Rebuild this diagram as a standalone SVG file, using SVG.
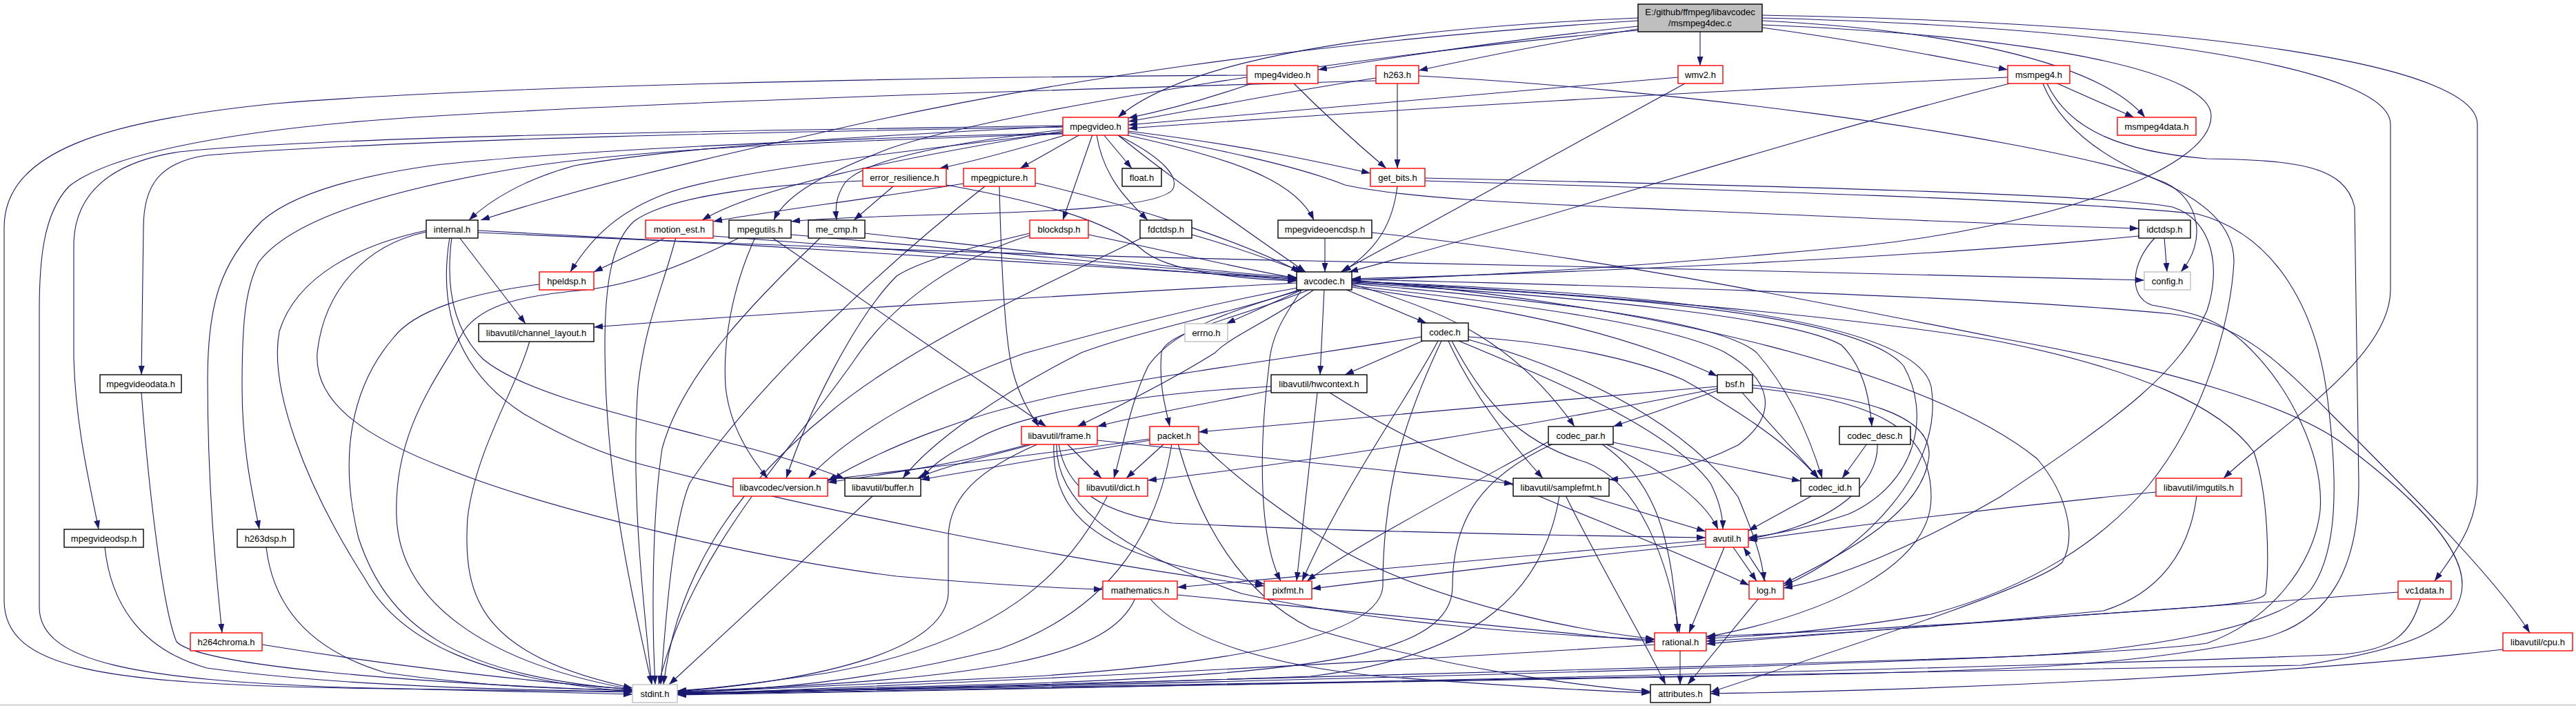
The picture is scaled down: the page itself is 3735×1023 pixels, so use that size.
<svg xmlns="http://www.w3.org/2000/svg" width="3735" height="1023" viewBox="0 0 3735 1023">
<defs>
<marker id="a" markerUnits="userSpaceOnUse" markerWidth="13" markerHeight="9" refX="13" refY="4.5" orient="auto"><path d="M0,0 L13,4.5 L0,9 z" fill="#191970"/></marker>
</defs>
<style>
.e path{fill:none;stroke:#191970;stroke-width:1.1;marker-end:url(#a)}
.bk rect{fill:#fff;stroke:#000;stroke-width:1.4}
.rd rect{fill:#fff;stroke:#f00;stroke-width:1.4}
.gy rect{fill:#fff;stroke:#bfbfbf;stroke-width:1.4}
.mn rect{fill:#bfbfbf;stroke:#000;stroke-width:1.4}
text{font-family:"Liberation Sans",Arial,sans-serif;font-size:13px;text-anchor:middle;fill:#000}
</style>
<rect x="0" y="0" width="3735" height="1023" fill="#fff"/>
<line x1="0" y1="1021.5" x2="3735" y2="1021.5" stroke="#c0c0c0" stroke-width="1.5"/>
<g id="connectors" class="e">
<path d="M2375,38 C2200,56 2040,80 1911,101"/>
<path d="M2375,42 C2260,60 2150,82 2057,102"/>
<path d="M2465,46 L2465,95"/>
<path d="M2555,40 C2690,58 2800,80 2911,101"/>
<path d="M2555,30 C2800,42 3040,85 3110,170"/>
<path d="M2375,26 C2000,42 1720,85 1621,170"/>
<path d="M2555,36 C3000,55 3206,110 3206,168 C3206,250 2950,330 2700,356 C2400,385 2150,400 1960,406"/>
<path d="M2375,30 C1900,60 1500,120 1200,190 C1000,235 850,270 697,319"/>
<path d="M2375,44 C2000,75 1450,160 1290,215 C1200,250 1140,280 1122,319"/>
<path d="M2555,26 C3100,40 3466,100 3466,180 L3466,420 C3466,520 3300,620 3224,693"/>
<path d="M2555,22 C3250,35 3592,100 3592,180 L3592,700 C3592,760 3560,800 3530,842"/>
<path d="M1815,121 C1760,140 1700,158 1636,171"/>
<path d="M1876,121 C1920,165 1970,210 2010,244"/>
<path d="M1808,109 C1300,112 700,125 400,150 C150,175 6,220 6,330 L6,870 C6,970 150,990 500,997 C700,1001 850,1003 917,1003"/>
<path d="M2026,121 L2026,244"/>
<path d="M1995,113 C1850,135 1720,162 1636,176"/>
<path d="M1995,117 C1600,128 1000,145 600,170 C300,190 150,230 100,270 C62,310 57,380 57,450 L57,880 C57,960 200,985 500,996 C700,1002 850,1005 917,1006"/>
<path d="M2057,110 C2400,128 2900,190 3114,255 C3200,290 3240,330 3239,380 C3235,460 3200,600 3114,705 C3050,780 2950,850 2800,890 C2650,915 2550,922 2474,925"/>
<path d="M2443,121 L1944,394"/>
<path d="M2433,112 C2100,140 1800,168 1636,181"/>
<path d="M2911,112 C2500,130 2000,160 1636,186"/>
<path d="M2914,121 C2600,200 2200,330 1956,394"/>
<path d="M2983,121 L3094,170"/>
<path d="M2962,121 C2990,190 3060,235 3140,265 C3190,290 3200,350 3162,394"/>
<path d="M2968,121 C3000,190 3080,220 3200,230 C3330,232 3400,240 3414,300 L3420,700 C3420,820 3380,900 3280,925 C3100,965 2900,972 2600,978 C2000,990 1400,1000 982,1006"/>
<path d="M1547,195 C1480,215 1420,232 1362,244"/>
<path d="M1566,195 L1479,244"/>
<path d="M1600,195 L1641,244"/>
<path d="M1584,195 L1541,319"/>
<path d="M1590,195 C1600,260 1640,295 1664,319"/>
<path d="M1636,190 C1800,210 1900,232 1987,251"/>
<path d="M1630,195 C1800,232 1880,265 1905,319"/>
<path d="M1636,192 C1760,215 1880,240 1950,268 C2050,290 2250,296 2450,305 C2700,315 2900,326 3101,331"/>
<path d="M1620,195 C1700,260 1800,330 1893,394"/>
<path d="M1541,183 C1300,195 1000,210 833,240 C760,260 710,290 680,319"/>
<path d="M1541,190 C1300,230 1100,270 1018,319"/>
<path d="M1619,195 C1690,230 1710,258 1700,275 C1680,298 1550,306 1400,310 C1250,314 1180,317 1147,321"/>
<path d="M1541,188 C1350,210 1250,235 1225,265 C1212,285 1211,300 1213,319"/>
<path d="M1541,192 C1300,220 1050,250 967,280 C900,305 860,340 827,394"/>
<path d="M1541,184 C1200,190 600,200 300,225 C230,235 208,270 208,330 L205,543"/>
<path d="M1541,182 C1200,188 500,195 260,220 C160,235 110,280 107,350 L107,520 C110,620 130,700 143,767"/>
<path d="M1541,194 C1200,205 900,215 715,250 C550,280 420,320 375,380 C355,420 351,470 351,560 C351,650 365,710 376,767"/>
<path d="M1541,193 C1200,200 800,220 625,240 C500,258 420,285 380,320 C320,380 301,440 301,550 C301,700 312,820 322,917"/>
<path d="M693,334 C1100,355 1600,385 1880,404"/>
<path d="M693,337 C1200,360 1600,372 1900,378 C2300,386 2800,398 3109,406"/>
<path d="M666,344 L762,469"/>
<path d="M618,334 C520,355 430,400 405,480 C390,560 440,700 530,840 C580,930 700,985 917,1002"/>
<path d="M618,336 C530,355 470,420 460,511 C455,580 520,630 650,680 C800,740 1100,810 1300,835 C1450,848 1530,852 1599,854"/>
<path d="M655,344 C645,420 660,480 700,520 C760,570 900,600 1050,640 C1130,660 1190,680 1225,694"/>
<path d="M652,344 C638,430 650,530 760,600 C830,640 880,660 934,674 C1150,730 1550,815 1833,849"/>
<path d="M966,344 L861,394"/>
<path d="M1034,342 C1400,370 1700,395 1880,406"/>
<path d="M980,344 C960,420 935,470 925,560 C915,700 930,850 945,992"/>
<path d="M1397,266 C1250,290 1100,308 1034,321"/>
<path d="M1449,270 C1452,400 1458,500 1469,540 C1480,580 1495,600 1506,618"/>
<path d="M1501,265 C1650,300 1800,350 1885,394"/>
<path d="M1428,270 C1300,370 1100,550 1000,700 C975,760 965,900 958,992"/>
<path d="M1295,270 L1238,319"/>
<path d="M1372,268 C1550,300 1620,330 1660,365 C1700,395 1800,404 1880,407"/>
<path d="M1251,262 C1100,268 970,285 920,320 C885,350 877,420 877,500 C877,700 920,880 945,992"/>
<path d="M1095,344 C1060,420 1048,500 1052,560 C1058,620 1090,665 1113,693"/>
<path d="M1119,344 L1517,618"/>
<path d="M1147,340 C1500,370 1750,395 1880,404"/>
<path d="M1073,344 C1000,380 930,410 850,420 C760,428 700,440 672,480 C640,540 570,620 575,750 C580,870 700,960 917,999"/>
<path d="M1254,338 C1500,365 1750,393 1880,402"/>
<path d="M1190,344 C1100,430 990,540 960,650 C945,750 945,900 950,992"/>
<path d="M1493,338 C1400,360 1330,380 1300,400 C1240,460 1170,600 1140,693"/>
<path d="M1578,340 C1700,365 1800,390 1880,403"/>
<path d="M1493,341 C1400,370 1300,430 1240,520 C1150,650 1000,800 955,992"/>
<path d="M1728,340 C1800,360 1850,380 1890,394"/>
<path d="M1657,344 C1500,420 1320,500 1200,600 C1050,720 980,850 962,992"/>
<path d="M1921,344 L1921,394"/>
<path d="M1989,337 C2300,370 2600,430 2900,490 C3150,535 3329,590 3400,645 C3500,720 3580,800 3569,858 C3560,910 3500,940 3337,964 C2800,975 1500,995 982,1004"/>
<path d="M3138,344 L3142,394"/>
<path d="M3101,342 C2800,372 2300,395 1960,404"/>
<path d="M3125,344 C3090,380 3085,430 3120,442 C3160,450 3210,455 3257,500 C3320,560 3370,660 3364,740 C3355,820 3290,900 3200,932 C3050,955 2000,985 982,1005"/>
<path d="M2026,270 C2020,320 2000,360 1946,394"/>
<path d="M2066,258 C2500,268 3050,280 3150,300 C3210,320 3220,390 3200,450 C3160,540 3080,600 2900,720 C2780,790 2660,840 2586,852"/>
<path d="M2066,262 C2500,275 3000,290 3186,310 C3300,340 3360,450 3375,580 C3390,700 3390,800 3350,855 C3300,910 3100,945 2900,952 C2200,975 1400,995 982,1006"/>
<path d="M1890,419 L1778,469"/>
<path d="M1880,410 C1500,430 1100,455 861,474"/>
<path d="M1920,419 L1914,543"/>
<path d="M1950,419 L2068,468"/>
<path d="M1882,417 C1750,440 1600,480 1485,512 C1350,560 1230,630 1172,693"/>
<path d="M1886,419 C1800,450 1650,480 1568,511 C1450,570 1350,640 1309,693"/>
<path d="M1892,419 C1780,450 1700,480 1665,530 C1640,580 1630,640 1615,693"/>
<path d="M1900,419 C1800,460 1690,480 1684,511 C1680,560 1690,590 1696,618"/>
<path d="M1906,419 C1850,460 1780,490 1762,511 C1700,550 1620,590 1562,618"/>
<path d="M1888,419 C1860,460 1842,490 1840,530 C1825,650 1825,780 1857,842"/>
<path d="M1960,414 C2200,440 2420,470 2500,510 C2570,550 2580,600 2520,645 C2450,680 2390,690 2333,695"/>
<path d="M1960,412 C2100,450 2200,500 2283,618"/>
<path d="M1960,411 C2300,440 2500,470 2547,511 C2590,560 2620,620 2642,693"/>
<path d="M1960,410 C2300,430 2600,460 2670,500 C2700,530 2710,570 2714,618"/>
<path d="M1960,416 C2200,450 2350,480 2490,545"/>
<path d="M1960,409 C2400,430 2700,460 2760,530 C2800,600 2780,700 2680,745 C2620,765 2570,775 2535,779"/>
<path d="M1960,408 C2450,425 2780,470 2800,560 C2820,680 2700,800 2586,849"/>
<path d="M1960,407 C2300,425 2700,460 2900,495 C3100,535 3221,590 3268,655 C3290,720 3290,820 3285,860 C3275,880 3150,880 2900,900 C2700,912 2560,920 2474,922"/>
<path d="M1960,406 C2400,440 2800,540 2954,665 C3000,720 3010,780 2990,815 C2950,850 2700,930 2480,1003"/>
<path d="M1960,405 C2400,415 2900,430 3150,455 C3250,470 3300,520 3380,600 C3500,720 3620,840 3668,917"/>
<path d="M2063,494 L1950,543"/>
<path d="M2061,488 C1900,515 1700,540 1550,570 C1400,600 1280,650 1200,697"/>
<path d="M2085,494 C2040,580 1950,700 1888,842"/>
<path d="M2090,494 C2040,600 2005,700 2005,850 C2000,920 1800,960 1500,980 C1200,995 1050,1002 982,1004"/>
<path d="M2100,494 C2130,560 2180,630 2237,693"/>
<path d="M2105,494 C2150,580 2200,640 2300,670 C2380,700 2420,820 2435,917"/>
<path d="M2115,494 C2250,550 2420,620 2480,700 C2495,730 2498,750 2498,767"/>
<path d="M2129,488 C2250,495 2370,520 2440,550 C2530,600 2600,650 2636,693"/>
<path d="M2129,492 C2300,540 2450,620 2520,720 C2545,780 2555,810 2558,842"/>
<path d="M1843,560 C1650,570 1470,600 1410,640 C1370,660 1350,675 1337,693"/>
<path d="M1843,566 C1720,590 1640,605 1591,618"/>
<path d="M1928,569 C2100,680 2350,760 2536,848"/>
<path d="M1910,569 L1880,842"/>
<path d="M2490,560 C2200,585 1900,610 1738,626"/>
<path d="M2490,563 C2200,620 1900,670 1664,696"/>
<path d="M2490,566 L2339,618"/>
<path d="M2526,569 L2637,693"/>
<path d="M2541,558 C2700,575 2800,600 2797,660 C2790,740 2680,800 2586,846"/>
<path d="M2541,562 C2720,580 2800,620 2800,720 C2800,820 2650,890 2474,923"/>
<path d="M1667,638 L1335,695"/>
<path d="M1667,636 C1500,660 1320,680 1200,695"/>
<path d="M1688,643 L1633,693"/>
<path d="M1699,643 C1680,760 1620,880 1450,940 C1250,990 1100,1000 982,1003"/>
<path d="M1708,643 C1740,760 1800,860 1900,910 C2100,970 2300,995 2393,1002"/>
<path d="M1738,640 C1800,700 1870,750 1950,800 C2100,880 2300,915 2399,926"/>
<path d="M1494,643 C1400,670 1300,685 1200,699"/>
<path d="M1500,643 C1420,665 1370,675 1330,693"/>
<path d="M1547,643 L1597,693"/>
<path d="M1506,643 C1420,680 1375,720 1375,780 L1375,860 C1370,940 1200,985 982,1002"/>
<path d="M1535,643 C1545,710 1600,745 1700,758 C1900,768 2200,775 2473,779"/>
<path d="M1591,638 C1800,660 2000,680 2194,701"/>
<path d="M1528,643 C1525,720 1560,780 1700,818 C1760,832 1800,840 1833,846"/>
<path d="M1532,643 C1530,720 1600,790 1800,860 C2000,905 2250,920 2399,927"/>
<path d="M2339,641 L2611,697"/>
<path d="M2327,643 C2400,675 2470,720 2491,767"/>
<path d="M2322,643 C2390,690 2425,760 2432,917"/>
<path d="M2245,640 C2100,720 1950,800 1895,842"/>
<path d="M2252,643 C2150,690 2106,750 2106,850 C2106,950 1900,975 1500,990 C1200,1000 1050,1003 982,1005"/>
<path d="M2300,718 L2473,770"/>
<path d="M2270,718 C2320,820 2380,920 2415,992"/>
<path d="M2261,718 C2240,850 2150,950 1900,980 C1500,995 1100,1003 982,1005"/>
<path d="M2707,643 L2671,693"/>
<path d="M2722,643 C2725,700 2660,760 2535,781"/>
<path d="M2628,718 L2535,769"/>
<path d="M3126,713 C2900,735 2700,760 2535,783"/>
<path d="M3185,718 C3175,800 3130,860 3050,885 C2800,910 2600,922 2474,929"/>
<path d="M3477,858 C3200,880 2800,905 2474,933"/>
<path d="M3510,867 C3495,920 3470,940 3400,948 C3000,965 2000,990 982,1007"/>
<path d="M3629,941 C3300,980 2800,1000 2480,1005"/>
<path d="M2500,793 L2449,917"/>
<path d="M2473,783 C2200,805 1900,835 1707,851"/>
<path d="M2473,788 C2300,805 2050,835 1902,853"/>
<path d="M2513,793 L2547,842"/>
<path d="M2560,842 L2528,793"/>
<path d="M2550,867 L2447,992"/>
<path d="M2436,942 L2436,992"/>
<path d="M2399,934 C2000,960 1400,990 982,1006"/>
<path d="M1707,862 C1900,880 2200,910 2399,930"/>
<path d="M1667,867 C1720,930 1850,965 2000,980 C2200,995 2330,1002 2393,1004"/>
<path d="M1646,867 C1610,950 1450,985 982,1002"/>
<path d="M1606,718 C1550,830 1450,930 1200,975 C1100,990 1030,998 982,1001"/>
<path d="M1266,718 L970,992"/>
<path d="M768,494 C750,560 690,650 678,750 C670,870 700,950 917,997"/>
<path d="M782,412 C680,425 600,450 570,490 C510,560 490,660 520,780 C560,900 650,980 917,999"/>
<path d="M205,569 C215,700 235,880 256,930 C290,965 600,990 917,1001"/>
<path d="M152,793 C160,870 200,940 300,968 C500,995 750,1000 917,1002"/>
<path d="M386,793 C395,870 440,940 560,975 C700,995 820,999 917,1000"/>
<path d="M380,934 C600,970 800,990 917,999"/>
</g>
<g id="n_main" class="mn"><rect x="2375" y="6" width="180" height="40"/><text x="2465" y="22">E:/github/ffmpeg/libavcodec</text><text x="2465" y="38">/msmpeg4dec.c</text></g>
<g id="n_mpeg4video" class="rd"><rect x="1808" y="95" width="103" height="26"/><text x="1859.5" y="112.5">mpeg4video.h</text></g>
<g id="n_h263" class="rd"><rect x="1995" y="95" width="62" height="26"/><text x="2026" y="112.5">h263.h</text></g>
<g id="n_wmv2" class="rd"><rect x="2433" y="95" width="65" height="26"/><text x="2465.5" y="112.5">wmv2.h</text></g>
<g id="n_msmpeg4" class="rd"><rect x="2911" y="95" width="90" height="26"/><text x="2956" y="112.5">msmpeg4.h</text></g>
<g id="n_mpegvideo" class="rd"><rect x="1541" y="170" width="95" height="26"/><text x="1588.5" y="187.5">mpegvideo.h</text></g>
<g id="n_msmpeg4data" class="rd"><rect x="3070" y="170" width="114" height="26"/><text x="3127" y="187.5">msmpeg4data.h</text></g>
<g id="n_error_resilience" class="rd"><rect x="1251" y="244" width="121" height="26"/><text x="1311.5" y="261.5">error_resilience.h</text></g>
<g id="n_mpegpicture" class="rd"><rect x="1397" y="244" width="104" height="26"/><text x="1449" y="261.5">mpegpicture.h</text></g>
<g id="n_float" class="bk"><rect x="1627" y="244" width="57" height="26"/><text x="1655.5" y="261.5">float.h</text></g>
<g id="n_get_bits" class="rd"><rect x="1987" y="244" width="79" height="26"/><text x="2026.5" y="261.5">get_bits.h</text></g>
<g id="n_internal" class="bk"><rect x="618" y="319" width="75" height="26"/><text x="655.5" y="336.5">internal.h</text></g>
<g id="n_motion_est" class="rd"><rect x="936" y="319" width="98" height="26"/><text x="985" y="336.5">motion_est.h</text></g>
<g id="n_mpegutils" class="bk"><rect x="1057" y="319" width="90" height="26"/><text x="1102" y="336.5">mpegutils.h</text></g>
<g id="n_me_cmp" class="bk"><rect x="1172" y="319" width="82" height="26"/><text x="1213" y="336.5">me_cmp.h</text></g>
<g id="n_blockdsp" class="rd"><rect x="1493" y="319" width="85" height="26"/><text x="1535.5" y="336.5">blockdsp.h</text></g>
<g id="n_fdctdsp" class="bk"><rect x="1653" y="319" width="75" height="26"/><text x="1690.5" y="336.5">fdctdsp.h</text></g>
<g id="n_mpegvideoencdsp" class="bk"><rect x="1853" y="319" width="136" height="26"/><text x="1921" y="336.5">mpegvideoencdsp.h</text></g>
<g id="n_idctdsp" class="bk"><rect x="3101" y="319" width="75" height="26"/><text x="3138.5" y="336.5">idctdsp.h</text></g>
<g id="n_hpeldsp" class="rd"><rect x="782" y="394" width="79" height="26"/><text x="821.5" y="411.5">hpeldsp.h</text></g>
<g id="n_avcodec" class="bk"><rect x="1880" y="394" width="80" height="26"/><text x="1920" y="411.5">avcodec.h</text></g>
<g id="n_config" class="gy"><rect x="3109" y="394" width="67" height="26"/><text x="3142.5" y="411.5">config.h</text></g>
<g id="n_channel_layout" class="bk"><rect x="694" y="469" width="167" height="26"/><text x="777.5" y="486.5">libavutil/channel_layout.h</text></g>
<g id="n_errno" class="gy"><rect x="1718" y="469" width="62" height="26"/><text x="1749" y="486.5">errno.h</text></g>
<g id="n_codec" class="bk"><rect x="2061" y="468" width="68" height="26"/><text x="2095" y="485.5">codec.h</text></g>
<g id="n_mpegvideodata" class="bk"><rect x="145" y="543" width="118" height="26"/><text x="204" y="560.5">mpegvideodata.h</text></g>
<g id="n_hwcontext" class="bk"><rect x="1843" y="543" width="139" height="26"/><text x="1912.5" y="560.5">libavutil/hwcontext.h</text></g>
<g id="n_bsf" class="bk"><rect x="2490" y="543" width="51" height="26"/><text x="2515.5" y="560.5">bsf.h</text></g>
<g id="n_frame" class="rd"><rect x="1481" y="618" width="110" height="26"/><text x="1536" y="635.5">libavutil/frame.h</text></g>
<g id="n_packet" class="rd"><rect x="1667" y="618" width="71" height="26"/><text x="1702.5" y="635.5">packet.h</text></g>
<g id="n_codec_par" class="bk"><rect x="2245" y="618" width="94" height="26"/><text x="2292" y="635.5">codec_par.h</text></g>
<g id="n_codec_desc" class="bk"><rect x="2667" y="618" width="103" height="26"/><text x="2718.5" y="635.5">codec_desc.h</text></g>
<g id="n_version" class="rd"><rect x="1063" y="693" width="137" height="26"/><text x="1131.5" y="710.5">libavcodec/version.h</text></g>
<g id="n_buffer" class="bk"><rect x="1225" y="693" width="110" height="26"/><text x="1280" y="710.5">libavutil/buffer.h</text></g>
<g id="n_dict" class="rd"><rect x="1564" y="693" width="100" height="26"/><text x="1614" y="710.5">libavutil/dict.h</text></g>
<g id="n_samplefmt" class="bk"><rect x="2194" y="693" width="139" height="26"/><text x="2263.5" y="710.5">libavutil/samplefmt.h</text></g>
<g id="n_codec_id" class="bk"><rect x="2611" y="693" width="85" height="26"/><text x="2653.5" y="710.5">codec_id.h</text></g>
<g id="n_imgutils" class="rd"><rect x="3126" y="693" width="124" height="26"/><text x="3188" y="710.5">libavutil/imgutils.h</text></g>
<g id="n_mpegvideodsp" class="bk"><rect x="93" y="767" width="115" height="26"/><text x="150.5" y="784.5">mpegvideodsp.h</text></g>
<g id="n_h263dsp" class="bk"><rect x="344" y="767" width="82" height="26"/><text x="385" y="784.5">h263dsp.h</text></g>
<g id="n_avutil" class="rd"><rect x="2473" y="767" width="62" height="26"/><text x="2504" y="784.5">avutil.h</text></g>
<g id="n_mathematics" class="rd"><rect x="1599" y="842" width="108" height="26"/><text x="1653" y="859.5">mathematics.h</text></g>
<g id="n_pixfmt" class="rd"><rect x="1833" y="842" width="69" height="26"/><text x="1867.5" y="859.5">pixfmt.h</text></g>
<g id="n_log" class="rd"><rect x="2536" y="842" width="50" height="26"/><text x="2561" y="859.5">log.h</text></g>
<g id="n_vc1data" class="rd"><rect x="3477" y="842" width="77" height="26"/><text x="3515.5" y="859.5">vc1data.h</text></g>
<g id="n_h264chroma" class="rd"><rect x="276" y="917" width="104" height="26"/><text x="328" y="934.5">h264chroma.h</text></g>
<g id="n_rational" class="rd"><rect x="2399" y="917" width="75" height="26"/><text x="2436.5" y="934.5">rational.h</text></g>
<g id="n_cpu" class="rd"><rect x="3629" y="917" width="101" height="26"/><text x="3679.5" y="934.5">libavutil/cpu.h</text></g>
<g id="n_stdint" class="gy"><rect x="917" y="992" width="65" height="26"/><text x="949.5" y="1009.5">stdint.h</text></g>
<g id="n_attributes" class="bk"><rect x="2393" y="992" width="87" height="26"/><text x="2436.5" y="1009.5">attributes.h</text></g>
</svg>
